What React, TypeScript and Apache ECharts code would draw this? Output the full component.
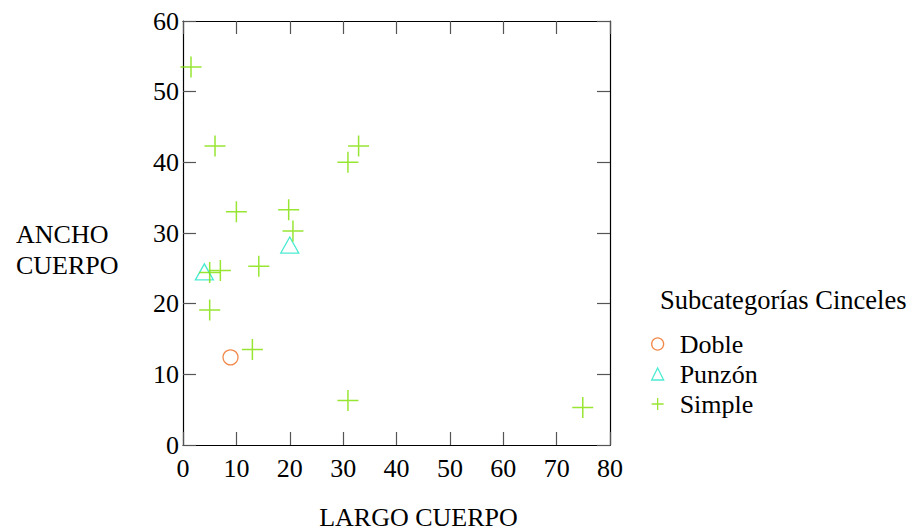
import React, { useEffect, useRef } from "react";
import * as echarts from "echarts";

const xTicks = [0, 10, 20, 30, 40, 50, 60, 70, 80];
const yTicks = [0, 10, 20, 30, 40, 50, 60];

const dobleData: number[][] = [[8.9, 12.4]];
const punzonData: number[][] = [
  [4.0, 24.5],
  [20.0, 28.3],
];
const simpleData: number[][] = [
  [1.5, 53.5],
  [6.0, 42.3],
  [32.9, 42.3],
  [30.9, 40.0],
  [10.0, 33.0],
  [19.8, 33.3],
  [20.6, 30.3],
  [5.0, 24.4],
  [7.0, 24.7],
  [14.2, 25.3],
  [5.0, 19.1],
  [13.0, 13.5],
  [30.9, 6.3],
  [74.9, 5.3],
];

const seriesNames = ["Doble", "Punzón", "Simple"];
const colors = ["#ee6c1e", "#1ee6c6", "#7ee000"];

const FONT = "Liberation Serif";
const CROSS = "path://M10,0L10,20M0,10L20,10";

export default function App() {
  const ref = useRef<HTMLDivElement>(null);
  useEffect(() => {
    if (!ref.current) return;
    const chart = echarts.init(ref.current, undefined, { renderer: "svg" });
    const axisCommon = {
      min: 0,
      interval: 10,
      axisLine: { show: true, onZero: false, lineStyle: { color: "#000", width: 1.2 } },
      axisTick: { show: true, inside: true, length: 13, lineStyle: { color: "#555", width: 1.2 } },
      splitLine: { show: false },
    };
    chart.setOption({
      animation: false,
      backgroundColor: "#fff",
      textStyle: { fontFamily: FONT },
      grid: { left: 183, right: 304, top: 21, bottom: 86, containLabel: false, outerBoundsMode: "none" },
      xAxis: [
        {
          ...axisCommon,
          type: "value",
          position: "bottom",
          max: xTicks[xTicks.length - 1],
          name: "LARGO CUERPO",
          nameLocation: "middle",
          nameGap: 59,
          nameTextStyle: { fontFamily: FONT, fontSize: 26, lineHeight: 26, color: "#000", padding: [0, 0, 0, 44] },
          axisLabel: { fontFamily: FONT, fontSize: 26, color: "#000", margin: 10 },
        },
        {
          ...axisCommon,
          type: "value",
          position: "top",
          max: xTicks[xTicks.length - 1],
          axisLabel: { show: false },
        },
      ],
      yAxis: [
        {
          ...axisCommon,
          type: "value",
          position: "left",
          max: yTicks[yTicks.length - 1],
          axisLabel: { fontFamily: FONT, fontSize: 26, color: "#000", margin: 4 },
        },
        {
          ...axisCommon,
          type: "value",
          position: "right",
          max: yTicks[yTicks.length - 1],
          axisLabel: { show: false },
        },
      ],
      legend: {
        orient: "vertical",
        left: 646,
        top: 326,
        itemWidth: 12,
        itemHeight: 12,
        itemGap: 4,
        textStyle: { fontFamily: FONT, fontSize: 26, color: "#000", lineHeight: 26, padding: [0, 0, 0, 11] },
        data: [
          { name: seriesNames[0], icon: "circle", itemStyle: { color: "transparent", borderColor: colors[0], borderWidth: 1.3 } },
          { name: seriesNames[1], icon: "triangle", itemStyle: { color: "transparent", borderColor: colors[1], borderWidth: 1.3 } },
          { name: seriesNames[2], icon: CROSS, itemStyle: { color: "transparent", borderColor: colors[2], borderWidth: 1.3 } },
        ],
      },
      graphic: [
        {
          type: "text",
          left: 660,
          top: 286,
          style: { text: "Subcategorías Cinceles", font: `26.5px '${FONT}'`, fill: "#000" },
        },
        {
          type: "text",
          left: 16,
          top: 219,
          style: { text: "ANCHO\nCUERPO", font: `26px '${FONT}'`, fill: "#000", lineHeight: 31, align: "left" },
        },
      ],
      series: [
        {
          name: seriesNames[0],
          type: "scatter",
          data: dobleData,
          symbol: "circle",
          symbolSize: 15,
          itemStyle: { color: "transparent", borderColor: colors[0], borderWidth: 1.3 },
        },
        {
          name: seriesNames[1],
          type: "scatter",
          data: punzonData,
          symbol: "triangle",
          symbolSize: [18, 16],
          itemStyle: { color: "transparent", borderColor: colors[1], borderWidth: 1.3 },
        },
        {
          name: seriesNames[2],
          type: "scatter",
          data: simpleData,
          symbol: CROSS,
          symbolSize: 21,
          itemStyle: { color: "transparent", borderColor: colors[2], borderWidth: 1.5 },
        },
      ],
    });
    return () => chart.dispose();
  }, []);
  return <div ref={ref} style={{ width: 914, height: 531, position: "absolute", left: 0, top: 0 }} />;
}
